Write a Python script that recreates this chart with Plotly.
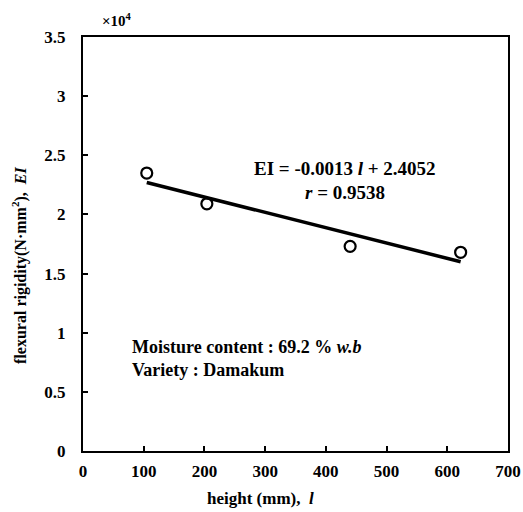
import plotly.graph_objects as go

# measured data
height_mm = [105, 204, 440, 622]
flexural_rigidity = [2.35, 2.09, 1.73, 1.68]  # x10^4 N*mm^2

# regression line endpoints (EI = -0.0013 l + 2.4052)
fit_x = [105, 622]
fit_y = [2.27, 1.60]

x_ticks = [0, 100, 200, 300, 400, 500, 600, 700]
y_ticks = [0, 0.5, 1, 1.5, 2, 2.5, 3, 3.5]
y_tick_labels = ["0", "0.5", "1", "1.5", "2", "2.5", "3", "3.5"]

FONT = "Liberation Serif"

fig = go.Figure()
fig.add_trace(go.Scatter(x=fit_x, y=fit_y, mode="lines",
                         line=dict(color="black", width=3.5), showlegend=False))
fig.add_trace(go.Scatter(x=height_mm, y=flexural_rigidity, mode="markers",
                         marker=dict(symbol="circle-open", size=11, color="black",
                                     line=dict(width=2.2, color="black")),
                         showlegend=False))

fig.update_layout(
    width=523, height=512,
    margin=dict(l=83, r=15, t=37, b=61, autoexpand=False),
    paper_bgcolor="white", plot_bgcolor="white",
    font=dict(family=FONT, size=17, color="black"),
    xaxis=dict(range=[0, 700], tickvals=x_ticks, ticks="inside", ticklen=5,
               tickwidth=1.5, tickcolor="black", showline=True, linecolor="black",
               linewidth=2, mirror=True, showgrid=False, zeroline=False,
               automargin=False, ticklabelstandoff=4,
               tickfont=dict(family=FONT, size=17, color="black", weight="bold")),
    yaxis=dict(range=[0, 3.5], tickvals=y_ticks, ticktext=y_tick_labels,
               ticks="inside", ticklen=5, tickwidth=1.5, tickcolor="black",
               showline=True, linecolor="black", linewidth=2, mirror=True,
               showgrid=False, zeroline=False, ticklabelstandoff=12,
               automargin=False,
               tickfont=dict(family=FONT, size=17, color="black", weight="bold")),
)

anns = [
    dict(text="<b>×10<sup>4</sup></b>", x=0.04, y=1, xref="paper", yref="paper",
         xanchor="left", yanchor="bottom", yshift=6, font=dict(size=15)),
    dict(text="<b>height (mm),  <i>l</i></b>", x=293, y=0, xref="x", yref="paper",
         xanchor="center", yanchor="middle", yshift=-47, font=dict(size=17)),
    dict(text="<b>flexural rigidity(N·mm<sup>2</sup>),  <i>EI</i></b>", x=0, y=0.447,
         xref="paper", yref="paper", xanchor="center", yanchor="middle",
         xshift=-63, textangle=-90, font=dict(size=16)),
    dict(text="<b>EI = -0.0013 <i>l</i> + 2.4052</b>", x=432, y=2.39, xref="x", yref="y",
         xanchor="center", yanchor="middle", font=dict(size=19)),
    dict(text="<b><i>r</i> = 0.9538</b>", x=432, y=2.185, xref="x", yref="y",
         xanchor="center", yanchor="middle", font=dict(size=19)),
    dict(text="<b>Moisture content : 69.2 % <i>w.b</i></b>", x=77, y=0.88, xref="x", yref="y",
         xanchor="left", yanchor="middle", font=dict(size=18)),
    dict(text="<b>Variety : Damakum</b>", x=77, y=0.685, xref="x", yref="y",
         xanchor="left", yanchor="middle", font=dict(size=18)),
]
for a in anns:
    a["showarrow"] = False
    fig.add_annotation(**a)

fig.write_html("out.html", config={"displayModeBar": False},
               post_script="document.body.style.margin='0';document.body.style.overflow='hidden';")
